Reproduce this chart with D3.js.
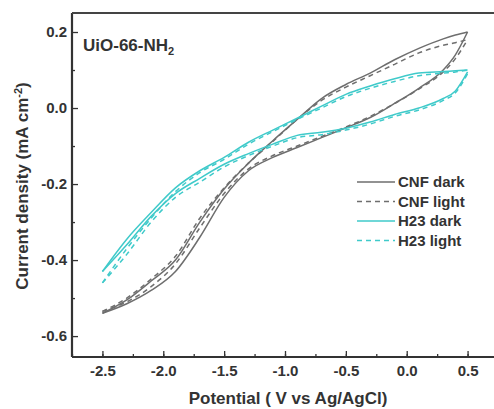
<!DOCTYPE html>
<html>
<head>
<meta charset="utf-8">
<script src="https://cdn.jsdelivr.net/npm/d3@7"></script>
<style>
	body { margin: 0; background: #fff; }
	text { font-family: "Liberation Sans", Arial, sans-serif; font-weight: bold; fill: #333; }
	.axis path { display: none; }
	.axis line { stroke: #333; stroke-width: 1.3; }
</style>
</head>
<body>
<div id="chart"></div>
<script>
// potential grid (V vs Ag/AgCl), shared by every branch
const potential = [-2.5, -2.3, -2.1, -1.9, -1.7, -1.5, -1.3, -1.1, -0.9, -0.7, -0.5, -0.3, -0.1, 0.1, 0.3, 0.4, 0.5];

// current density (mA cm-2), upper and lower branch of each loop
const cnfDarkUpper  = [-0.54, -0.505, -0.455, -0.40, -0.30, -0.213, -0.145, -0.086, -0.03, 0.025, 0.062, 0.092, 0.127, 0.157, 0.182, 0.192, 0.2];
const cnfDarkLower  = [-0.54, -0.515, -0.48, -0.43, -0.34, -0.235, -0.165, -0.13, -0.104, -0.078, -0.052, -0.025, 0.012, 0.052, 0.10, 0.14, 0.2];
const cnfLightUpper = [-0.535, -0.50, -0.45, -0.39, -0.29, -0.21, -0.145, -0.088, -0.03, 0.02, 0.055, 0.085, 0.115, 0.145, 0.165, 0.172, 0.18];
const cnfLightLower = [-0.535, -0.51, -0.47, -0.41, -0.315, -0.225, -0.16, -0.125, -0.1, -0.075, -0.05, -0.022, 0.012, 0.05, 0.095, 0.13, 0.18];
const h23DarkUpper  = [-0.43, -0.345, -0.275, -0.21, -0.165, -0.13, -0.09, -0.058, -0.027, 0.005, 0.036, 0.058, 0.077, 0.092, 0.096, 0.098, 0.1];
const h23DarkLower  = [-0.43, -0.36, -0.285, -0.225, -0.185, -0.148, -0.12, -0.095, -0.072, -0.064, -0.053, -0.037, -0.017, 0.0, 0.025, 0.045, 0.095];
const h23LightUpper = [-0.46, -0.37, -0.29, -0.22, -0.17, -0.135, -0.095, -0.062, -0.03, 0.0, 0.03, 0.052, 0.07, 0.085, 0.092, 0.095, 0.1];
const h23LightLower = [-0.46, -0.385, -0.30, -0.235, -0.195, -0.155, -0.125, -0.1, -0.078, -0.07, -0.058, -0.042, -0.022, -0.005, 0.02, 0.04, 0.09];

const seriesNames = ['CNF dark', 'CNF light', 'H23 dark', 'H23 light'];
const xTicks = [-2.5, -2.0, -1.5, -1.0, -0.5, 0.0, 0.5];
const yTicks = [0.2, 0.0, -0.2, -0.4, -0.6];

const grey = '#6e6e6e';
const cyan = '#3fcaca';

const series = [
	{name: seriesNames[0], upper: cnfDarkUpper, lower: cnfDarkLower, colour: grey, dash: null},
	{name: seriesNames[1], upper: cnfLightUpper, lower: cnfLightLower, colour: grey, dash: '5,4'},
	{name: seriesNames[2], upper: h23DarkUpper, lower: h23DarkLower, colour: cyan, dash: null},
	{name: seriesNames[3], upper: h23LightUpper, lower: h23LightLower, colour: cyan, dash: '5,4'}
];

const width = 494, height = 409;
const frame = {left: 72, top: 13, bottom: 357, right: 498};
const tickFormat = d => d.toFixed(1); // plain hyphen, as in the original

const svg = d3.select('#chart').append('svg')
	.attr('width', width)
	.attr('height', height);

// scales - right spine sits just outside the picture
const x = d3.scaleLinear().domain([-2.75, 0.75]).range([frame.left, frame.right]);
const y = d3.scaleLinear().domain([-0.655, 0.25]).range([frame.bottom, frame.top]);

drawAxes();
drawCurves();
addLegend();
addLabels();

function drawAxes() {
	// minor ticks
	svg.append('g')
		.attr('class', 'axis')
		.attr('transform', `translate(0,${frame.bottom})`)
		.call(d3.axisBottom(x).tickValues(d3.range(-2.75, 0.76, 0.25)).tickSize(-3).tickFormat(''));
	svg.append('g')
		.attr('class', 'axis')
		.attr('transform', `translate(${frame.left},0)`)
		.call(d3.axisLeft(y).tickValues([0.1, -0.1, -0.3, -0.5]).tickSize(-3).tickFormat(''));

	// major ticks
	const xAxis = svg.append('g')
		.attr('class', 'axis')
		.attr('transform', `translate(0,${frame.bottom})`)
		.call(d3.axisBottom(x).tickValues(xTicks).tickSize(-6).tickPadding(8).tickFormat(tickFormat));
	xAxis.selectAll('text').style('font-size', '15px').attr('dy', '0.71em');

	const yAxis = svg.append('g')
		.attr('class', 'axis')
		.attr('transform', `translate(${frame.left},0)`)
		.call(d3.axisLeft(y).tickValues(yTicks).tickSize(-6).tickPadding(5).tickFormat(tickFormat));
	yAxis.selectAll('text').style('font-size', '15px').attr('x', -5);

	// frame
	svg.append('line')
		.attr('x1', frame.left).attr('x2', frame.left)
		.attr('y1', frame.top).attr('y2', frame.bottom)
		.attr('stroke', '#333').attr('stroke-width', 2.2);
	svg.append('line')
		.attr('x1', frame.left).attr('x2', width)
		.attr('y1', frame.bottom).attr('y2', frame.bottom)
		.attr('stroke', '#333').attr('stroke-width', 2.2);
	svg.append('line')
		.attr('x1', frame.left).attr('x2', width)
		.attr('y1', frame.top).attr('y2', frame.top)
		.attr('stroke', '#444').attr('stroke-width', 2.2);
}

function drawCurves() {
	const line = d3.line()
		.x(d => x(d[0]))
		.y(d => y(d[1]))
		.curve(d3.curveMonotoneX);

	series.forEach(s => {
		[s.upper, s.lower].forEach(branch => {
			svg.append('path')
				.datum(potential.map((p, i) => [p, branch[i]]))
				.attr('d', line)
				.attr('fill', 'none')
				.attr('stroke', s.colour)
				.attr('stroke-width', 1.5)
				.attr('stroke-dasharray', s.dash);
		});
	});
}

function addLegend() {
	const rowY = [182, 201.5, 221, 240.5];
	const legend = svg.append('g').attr('class', 'legend');

	series.forEach((s, i) => {
		legend.append('line')
			.attr('x1', 357).attr('x2', 395)
			.attr('y1', rowY[i]).attr('y2', rowY[i])
			.attr('stroke', s.colour)
			.attr('stroke-width', 1.5)
			.attr('stroke-dasharray', s.dash);
		legend.append('text')
			.attr('x', 398)
			.attr('y', rowY[i] + 5)
			.style('font-size', '15px')
			.text(s.name);
	});
}

function addLabels() {
	svg.append('text')
		.attr('x', 288)
		.attr('y', 404)
		.attr('text-anchor', 'middle')
		.style('font-size', '17px')
		.text('Potential ( V vs Ag/AgCl)');

	const yTitle = svg.append('text')
		.attr('transform', 'translate(28,186) rotate(-90)')
		.attr('text-anchor', 'middle')
		.style('font-size', '17px');
	yTitle.append('tspan').text('Current density (mA cm');
	yTitle.append('tspan').attr('dy', -6).style('font-size', '11px').text('-2');
	yTitle.append('tspan').attr('dy', 6).text(')');

	const tag = svg.append('text')
		.attr('x', 83)
		.attr('y', 51)
		.style('font-size', '17px');
	tag.append('tspan').text('UiO-66-NH');
	tag.append('tspan').attr('dy', 4).style('font-size', '11px').text('2');
}
</script>
</body>
</html>
